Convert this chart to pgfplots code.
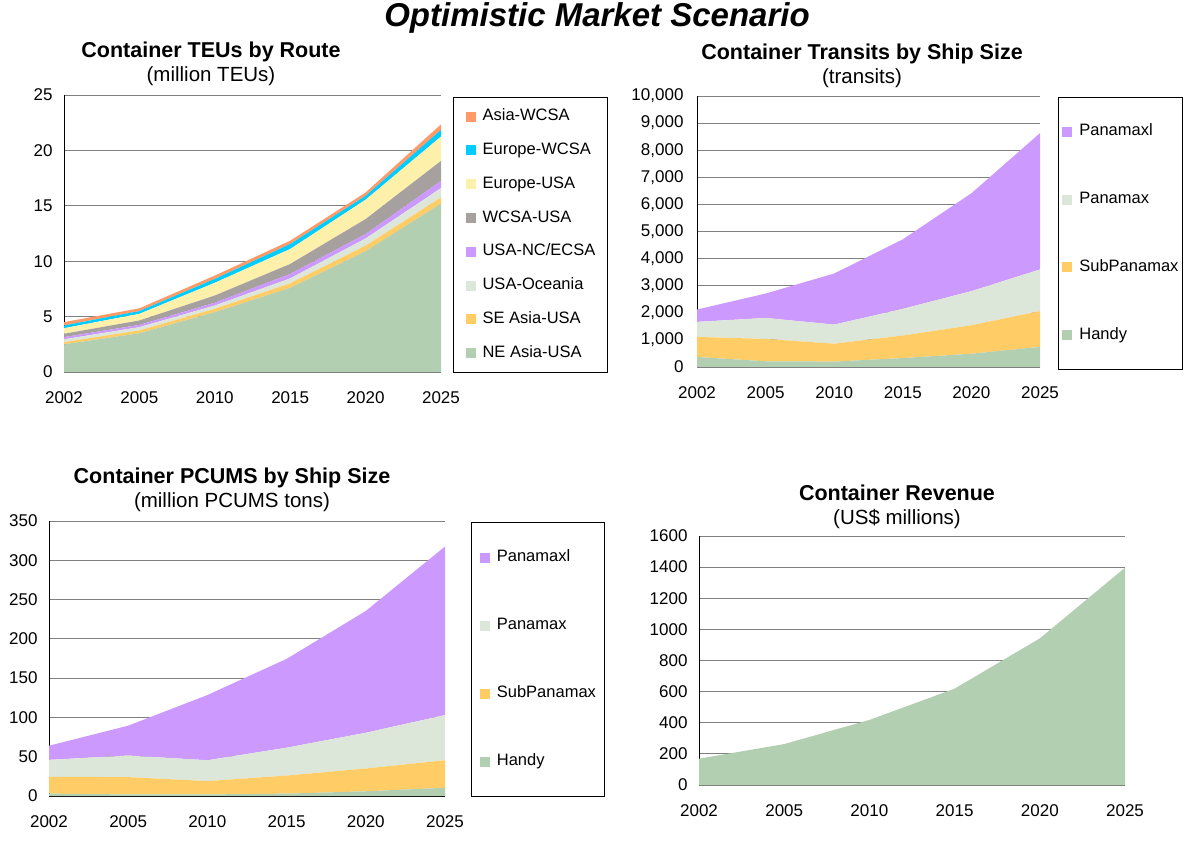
\documentclass[border=0pt]{standalone}
\usepackage{pgfplots}
\pgfplotsset{compat=1.18}
\usepackage{fontspec}
\setmainfont{Liberation Sans}
\definecolor{cNE}{HTML}{B2CFB1}
\definecolor{cSE}{HTML}{FFCC66}
\definecolor{cOC}{HTML}{DCE7DA}
\definecolor{cNC}{HTML}{CC99FF}
\definecolor{cWC}{HTML}{A6A09E}
\definecolor{cEU}{HTML}{FDF0AA}
\definecolor{cEW}{HTML}{00CCFF}
\definecolor{cAW}{HTML}{FF9966}
\newcommand{\tickfont}{\fontsize{17}{20}\selectfont}
\newcommand{\legfont}{\fontsize{16.5}{19}\selectfont}
\pgfplotsset{
  base/.style={
    scale only axis, xmin=0, xmax=5, ymin=0,
    xtick={0,...,5}, xticklabels={2002,2005,2010,2015,2020,2025},
    axis x line*=bottom, axis y line*=left,
    axis line style={draw=none},
    ymajorgrids, grid style={draw=black!50, line width=0.9pt},
    major tick length=0pt,
    tick label style={font=\tickfont},
    /pgf/number format/assume math mode=true,
    xticklabel style={yshift=-16pt},
    yticklabel style={xshift=-8pt},
    stack plots=y,
    legend image code/.code={\fill[##1] (0pt,-5pt) rectangle (10pt,5pt);},
    reverse legend, legend cell align=left,
  },
  leg/.style n args={5}{legend style={at={(#1,#2)}, anchor=north west, draw=black, line width=0.8pt,
    font=\legfont, row sep=#5, minimum width=#3, minimum height=#4,
    nodes={inner sep=0pt, minimum width=0pt, minimum height=0pt, text height=12pt, text depth=3.5pt},
    /tikz/every odd column/.append style={column sep=7pt}}},
}
\newcommand{\frameaxis}{\draw[black, line width=1.2pt] (rel axis cs:0,1) -- (rel axis cs:0,0) -- (rel axis cs:1,0);}
\begin{document}
\begin{tikzpicture}
\useasboundingbox (0,0) rectangle (1196pt,843pt);
\node[anchor=base, font=\fontsize{33}{38}\selectfont\bfseries\itshape] at (597pt,816pt) {Optimistic Market Scenario};
% titles
\node[anchor=base, font=\fontsize{21.5}{25}\selectfont\bfseries] at (211pt,785pt) {Container TEUs by Route};
\node[anchor=base, font=\fontsize{20.5}{24}\selectfont] at (211pt,761pt) {(million TEUs)};
\node[anchor=base, font=\fontsize{21.5}{25}\selectfont\bfseries] at (862pt,783pt) {Container Transits by Ship Size};
\node[anchor=base, font=\fontsize{20.5}{24}\selectfont] at (862pt,759pt) {(transits)};
\node[anchor=base, font=\fontsize{21.5}{25}\selectfont\bfseries] at (232pt,359pt) {Container PCUMS by Ship Size};
\node[anchor=base, font=\fontsize{20.5}{24}\selectfont] at (232pt,335pt) {(million PCUMS tons)};
\node[anchor=base, font=\fontsize{21.5}{25}\selectfont\bfseries] at (897pt,342pt) {Container Revenue};
\node[anchor=base, font=\fontsize{20.5}{24}\selectfont] at (897pt,318pt) {(US\$ millions)};

% Chart 1
\begin{axis}[base, at={(64pt,471pt)}, anchor=south west, width=377pt, height=277pt,
  ymax=25, ytick={0,5,...,25},
  leg={1.032}{0.993}{154pt}{275pt}{18.3pt}]
\addplot[fill=cNE, draw=none] coordinates {(0,2.5) (1,3.5) (2,5.4) (3,7.6) (4,10.9) (5,15.2)} \closedcycle;
\addlegendentry{NE Asia-USA}
\addplot[fill=cSE, draw=none] coordinates {(0,0.2) (1,0.25) (2,0.3) (3,0.4) (4,0.5) (5,0.55)} \closedcycle;
\addlegendentry{SE Asia-USA}
\addplot[fill=cOC, draw=none] coordinates {(0,0.25) (1,0.3) (2,0.3) (3,0.45) (4,0.65) (5,0.85)} \closedcycle;
\addlegendentry{USA-Oceania}
\addplot[fill=cNC, draw=none] coordinates {(0,0.2) (1,0.2) (2,0.25) (3,0.4) (4,0.4) (5,0.65)} \closedcycle;
\addlegendentry{USA-NC/ECSA}
\addplot[fill=cWC, draw=none] coordinates {(0,0.3) (1,0.4) (2,0.65) (3,0.9) (4,1.35) (5,1.8)} \closedcycle;
\addlegendentry{WCSA-USA}
\addplot[fill=cEU, draw=none] coordinates {(0,0.5) (1,0.6) (2,1.15) (3,1.35) (4,1.75) (5,2.2)} \closedcycle;
\addlegendentry{Europe-USA}
\addplot[fill=cEW, draw=none] coordinates {(0,0.25) (1,0.25) (2,0.35) (3,0.45) (4,0.35) (5,0.6)} \closedcycle;
\addlegendentry{Europe-WCSA}
\addplot[fill=cAW, draw=none] coordinates {(0,0.3) (1,0.25) (2,0.3) (3,0.3) (4,0.3) (5,0.5)} \closedcycle;
\addlegendentry{Asia-WCSA}
\frameaxis
\end{axis}

% Chart 2
\begin{axis}[base, at={(697pt,476pt)}, anchor=south west, width=343pt, height=271pt,
  ymax=10000, ytick={0,1000,...,10000},
  yticklabel style={xshift=-2pt, /pgf/number format/.cd, fixed, 1000 sep={,}},
  scaled y ticks=false,
  leg={1.0525}{0.996}{124pt}{272pt}{52.4pt}]
\addplot[fill=cNE, draw=none] coordinates {(0,370) (1,210) (2,200) (3,330) (4,490) (5,740)} \closedcycle;
\addlegendentry{Handy}
\addplot[fill=cSE, draw=none] coordinates {(0,740) (1,825) (2,660) (3,830) (4,1050) (5,1320)} \closedcycle;
\addlegendentry{SubPanamax}
\addplot[fill=cOC, draw=none] coordinates {(0,555) (1,775) (2,705) (3,985) (4,1260) (5,1540)} \closedcycle;
\addlegendentry{Panamax}
\addplot[fill=cNC, draw=none] coordinates {(0,455) (1,900) (2,1885) (3,2565) (4,3610) (5,5030)} \closedcycle;
\addlegendentry{Panamaxl}
\frameaxis
\end{axis}

% Chart 3
\begin{axis}[base, at={(49pt,47pt)}, anchor=south west, width=396pt, height=275pt,
  ymax=350, ytick={0,50,...,350},
  leg={1.0657}{0.996}{133pt}{274pt}{52.5pt}]
\addplot[fill=cNE, draw=none] coordinates {(0,3) (1,2) (2,2) (3,3) (4,6) (5,10.5)} \closedcycle;
\addlegendentry{Handy}
\addplot[fill=cSE, draw=none] coordinates {(0,21.5) (1,22) (2,17) (3,23) (4,29) (5,35)} \closedcycle;
\addlegendentry{SubPanamax}
\addplot[fill=cOC, draw=none] coordinates {(0,21.5) (1,27.5) (2,26.5) (3,35.5) (4,45.5) (5,57.5)} \closedcycle;
\addlegendentry{Panamax}
\addplot[fill=cNC, draw=none] coordinates {(0,18) (1,38) (2,83) (3,113) (4,155) (5,214.5)} \closedcycle;
\addlegendentry{Panamaxl}
\frameaxis
\end{axis}

% Chart 4
\begin{axis}[base, at={(699pt,58pt)}, anchor=south west, width=426pt, height=249pt,
  ymax=1600, ytick={0,200,...,1600},
  yticklabel style={/pgf/number format/.cd, fixed, 1000 sep={}},
  scaled y ticks=false]
\addplot[fill=cNE, draw=none] coordinates {(0,169) (1,263) (2,418) (3,619) (4,942) (5,1396)} \closedcycle;
\frameaxis
\end{axis}
\end{tikzpicture}
\end{document}
